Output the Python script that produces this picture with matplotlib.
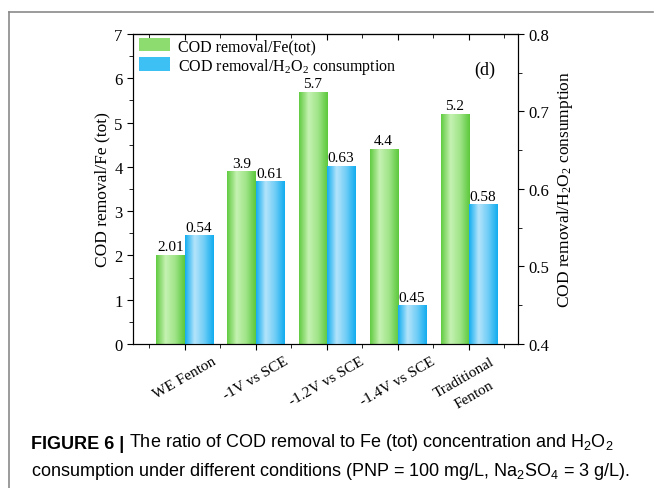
import numpy as np
import matplotlib
matplotlib.use("Agg")
import matplotlib.pyplot as plt
from matplotlib.colors import LinearSegmentedColormap
from matplotlib.lines import Line2D
from matplotlib.ticker import MultipleLocator

# data
categories = ["WE Fenton", "-1V vs SCE", "-1.2V vs SCE", "-1.4V vs SCE", "Traditional\nFenton"]
fe_ratio = [2.01, 3.9, 5.7, 4.4, 5.2]
fe_labels = ["2.01", "3.9", "5.7", "4.4", "5.2"]
h2o2_ratio = [0.54, 0.61, 0.63, 0.45, 0.58]
h2o2_labels = ["0.54", "0.61", "0.63", "0.45", "0.58"]

plt.rcParams["font.family"] = ["Liberation Serif", "DejaVu Serif"]
plt.rcParams["mathtext.fontset"] = "custom"
plt.rcParams["mathtext.rm"] = "Liberation Serif"
plt.rcParams["mathtext.it"] = "Liberation Serif:italic"
plt.rcParams["mathtext.bf"] = "Liberation Serif:bold"
plt.rcParams["mathtext.sf"] = "Liberation Sans"

green_cmap = LinearSegmentedColormap.from_list("g", ["#62cc42", "#c6f2b2", "#9fe488", "#5cc93c"])
blue_cmap = LinearSegmentedColormap.from_list("b", ["#14aef0", "#b4e4fb", "#6fcdf6", "#12acef"])

fig = plt.figure(figsize=(6.54, 4.89), dpi=100)
ax = fig.add_axes([0.2034, 0.2945, 0.5886, 0.634])
ax2 = ax.twinx()

x = np.arange(len(categories))
w = 0.4
grad = np.linspace(0, 1, 64).reshape(1, -1)


def shade(axis, bars, cmap):
    # gradient fill clipped to each bar
    for b in bars:
        im = axis.imshow(grad, cmap=cmap, aspect="auto", zorder=2,
                         extent=[b.get_x(), b.get_x() + b.get_width(),
                                 b.get_y(), b.get_y() + b.get_height()])
        b.set_facecolor("none")
        im.set_clip_path(b)


g_bars = ax.bar(x - w / 2, fe_ratio, w, color="#86d96a", linewidth=0, zorder=2,
                label="COD removal/Fe(tot)")
b_bars = ax2.bar(x + w / 2, [v - 0.4 for v in h2o2_ratio], w, bottom=0.4, color="#33bdf2",
                 linewidth=0, zorder=2, label="COD removal/H$_2$O$_2$ consumption")

shade(ax, g_bars, green_cmap)
shade(ax2, b_bars, blue_cmap)
ax.set_xlim(-0.73, 4.69)
ax.set_ylim(0, 7)
ax2.set_ylim(0.4, 0.8)

for b, t in zip(g_bars, fe_labels):
    ax.annotate(t, (b.get_x() + b.get_width() / 2, b.get_height()), xytext=(0, 1.2),
                textcoords="offset points", ha="center", va="bottom", fontsize=11)
for b, t in zip(b_bars, h2o2_labels):
    ax2.annotate(t, (b.get_x() + b.get_width() / 2, b.get_y() + b.get_height()), xytext=(0, 1.2),
                 textcoords="offset points", ha="center", va="bottom", fontsize=11)

ax.set_xticks(x)
ax.set_xticklabels(categories, rotation=30, ha="center", fontsize=11, linespacing=1.7)
ax.xaxis.set_minor_locator(MultipleLocator(0.5))
ax.tick_params(axis="x", which="both", direction="out", length=4)
ax.tick_params(axis="x", which="minor", length=3)
top = ax.secondary_xaxis("top")
top.set_xticks(x)
top.xaxis.set_minor_locator(MultipleLocator(0.5))
top.tick_params(axis="x", which="both", direction="in", labeltop=False, length=4)
top.tick_params(axis="x", which="minor", length=3)

ax.yaxis.set_major_locator(MultipleLocator(1))
ax.yaxis.set_minor_locator(MultipleLocator(0.5))
ax.tick_params(axis="y", which="both", direction="out", labelsize=12, length=4)
ax.tick_params(axis="y", which="minor", length=3)
ax2.yaxis.set_major_locator(MultipleLocator(0.1))
ax2.yaxis.set_minor_locator(MultipleLocator(0.05))
ax2.tick_params(axis="y", which="both", direction="out", labelsize=12, length=4)
ax2.tick_params(axis="y", which="minor", length=3)

ax.set_ylabel("COD removal/Fe (tot)", fontsize=12.5, labelpad=3)
ax2.set_ylabel("COD removal/H$_2$O$_2$ consumption", fontsize=12.5, rotation=90, labelpad=4)

ax.text(0.915, 0.885, "(d)", transform=ax.transAxes, fontsize=13, ha="center", va="center")

handles = [g_bars, b_bars]
leg = ax.legend(handles, [h.get_label() for h in handles], loc="upper left",
                bbox_to_anchor=(0.0, 1.008), frameon=False, fontsize=11.5,
                handlelength=1.9, handleheight=0.9, handletextpad=0.5, labelspacing=0.1,
                borderaxespad=0.2, borderpad=0.2)
for patch, col in zip(leg.get_patches(), ["#8ddc70", "#3dc0f3"]):
    patch.set_facecolor(col)

# figure frame lines
fig.add_artist(Line2D([9 / 654, 9 / 654], [0, 1 - 13 / 489], color="#8a8a8a", lw=1.2))
fig.add_artist(Line2D([9 / 654, 653 / 654], [1 - 13 / 489, 1 - 13 / 489], color="#8a8a8a", lw=1.2))

# caption
cap = fig.text(31 / 654, 1 - 449 / 489, "FIGURE 6 |", family="Liberation Sans", weight="bold",
               fontsize=13, va="baseline", ha="left")
ax.annotate(" The ratio of COD removal to Fe (tot) concentration and $\\mathsf{H_2O_2}$",
            xy=(1, 0), xycoords=cap, va="bottom", ha="left", family="Liberation Sans",
            fontsize=13, annotation_clip=False)
fig.text(31 / 654, 1 - 476 / 489,
         "consumption under different conditions (PNP = 100 mg/L, $\\mathsf{Na_2SO_4}$ = 3 g/L).",
         family="Liberation Sans", fontsize=13, va="baseline", ha="left")

fig.savefig("out.png", dpi=100)
